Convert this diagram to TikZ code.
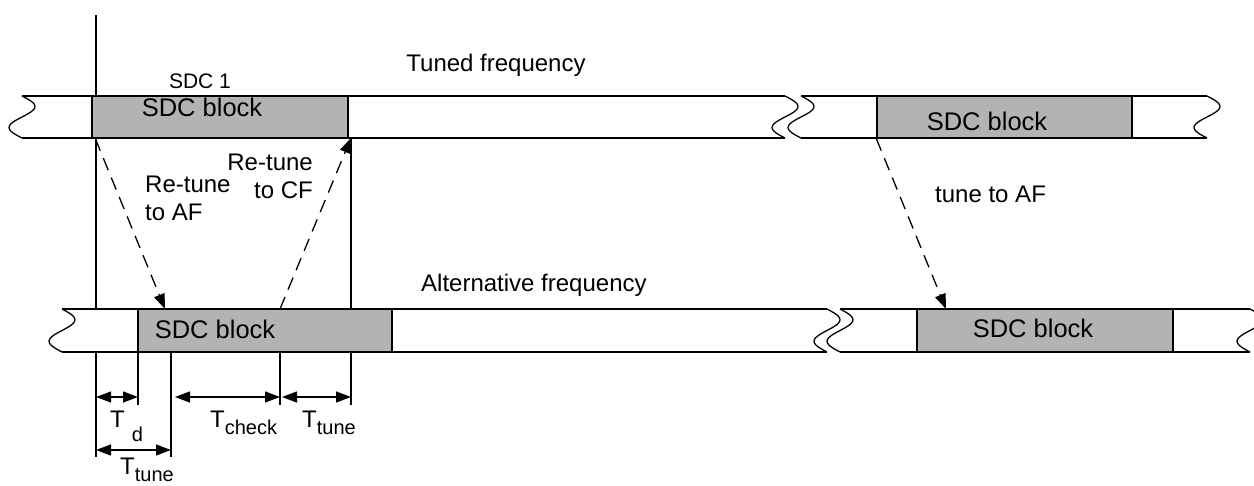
\documentclass[tikz,border=0pt]{standalone}
\usepackage{fontspec}
\setmainfont{Liberation Sans}
\usetikzlibrary{arrows.meta,positioning,calc}
\definecolor{BlockGray}{HTML}{B3B3B3}
\newcommand{\Squig}[3]{%
  \draw[strip] plot[smooth,domain=0:1,samples=25,variable=\t] ({#1+13*sin(360*\t)},{#2+#3*\t});%
}
\newcommand{\SubFont}{\fontsize{20}{20}\selectfont}
\newcommand{\TSub}[3]{T\hspace{#2}\raisebox{#3}{\SubFont #1}}

\begin{document}
\begin{tikzpicture}[x=1pt,y=-1pt,
  strip/.style={line width=1.3pt},
  sdc/.style={draw,fill=BlockGray,line width=1.3pt,inner sep=0pt,minimum height=42pt},
  lbl/.style={font=\fontsize{24}{28}\selectfont,inner sep=0pt,anchor=base},
  blktxt/.style={font=\fontsize{25.5}{28}\selectfont,inner sep=0pt,anchor=base},
  tiny/.style={font=\fontsize{21}{24}\selectfont,inner sep=0pt,anchor=base},
  tuneto/.style={line width=1.3pt,dash pattern=on 13pt off 8pt,-{Triangle[length=15pt,width=11pt]}},
  dimen/.style={line width=1.3pt,{Triangle[length=15pt,width=11pt]}-{Triangle[length=15pt,width=11pt]}}]
\useasboundingbox (0,0) rectangle (1254,486);
% frequency strips
\foreach \xa/\xb/\ya/\yb in {22/785/96/138, 801/1207/96/138, 62/827/309/352, 840/1250/309/352} {
  \draw[strip] (\xa,\ya) -- (\xb,\ya);
  \draw[strip] (\xa,\yb) -- (\xb,\yb);
}
\foreach \sx/\sy in {22/96, 785/96, 801/96, 1207/96} \Squig{\sx}{\sy}{42};
\foreach \sx/\sy in {62/309, 827/309, 840/309, 1250/309} \Squig{\sx}{\sy}{43};
% time marks
\coordinate (mkA) at (96,15);
\coordinate (mkB) at (351,138);
\draw[strip] (mkA) -- (96,309);
\draw[strip] (96,352) -- (96,457);
\draw[strip] (mkB) -- (351,405);
\draw[strip] (138,352) -- (138,405);
\draw[strip] (171,352) -- (171,457);
\draw[strip] (280,352) -- (280,405);
% SDC blocks
\node[sdc,minimum width=256pt] (blkTA) at (220,117) {};
\node[sdc,minimum width=255pt] (blkTB) at (1004.5,117) {};
\node[sdc,minimum width=254pt,minimum height=43pt] (blkAA) at (265,330.5) {};
\node[sdc,minimum width=256pt,minimum height=43pt] (blkAB) at (1045,330.5) {};
\node[blktxt] (txtTA) at (202,117) {SDC block};
\node[blktxt] (txtTB) at (987,131) {SDC block};
\node[blktxt] (txtAA) at (215,339) {SDC block};
\node[blktxt] (txtAB) at (1033,338) {SDC block};
\node[tiny] (sdcone) at (200,89) {SDC 1};
\node[lbl] (tuned) at (496,72) {Tuned frequency};
\node[lbl,anchor=base west] (altern) at (421,292) {Alternative frequency};
% re-tuning
\coordinate (goA) at ($(blkTA.south west)+(4,0)$);
\coordinate (inA) at (165,309);
\coordinate (outA) at (280,309);
\coordinate (goB) at (blkTB.south west);
\coordinate (inB) at (946,309);
\draw[tuneto] (goA) -- (inA);
\draw[tuneto] (outA) -- (mkB);
\draw[tuneto] (goB) -- (inB);
\node[lbl,anchor=base west,align=left] (retuneAF) at (145,221) {Re-tune\\to AF};
\node[lbl,anchor=base east,align=right] (retuneCF) at (313,199) {Re-tune\\to CF};
\node[lbl,anchor=base west] (tuneAF) at (935,203) {tune to AF};
% durations
\draw[dimen] (96,397) -- (138,397);
\draw[dimen] (175,397) -- (280,397);
\draw[dimen] (282,397) -- (351,397);
\draw[dimen] (96,450) -- (171,450);
\node[lbl,anchor=base west] (tdly) at (110,428) {\TSub{d}{7pt}{-14pt}};
\node[lbl,anchor=base west] (tchk) at (210,428) {\TSub{check}{0pt}{-7pt}};
\node[lbl,anchor=base west] (ttunA) at (302,428) {\TSub{tune}{0pt}{-7pt}};
\node[lbl,anchor=base west] (ttunB) at (120,475) {\TSub{tune}{0pt}{-6pt}};
\end{tikzpicture}
\end{document}
